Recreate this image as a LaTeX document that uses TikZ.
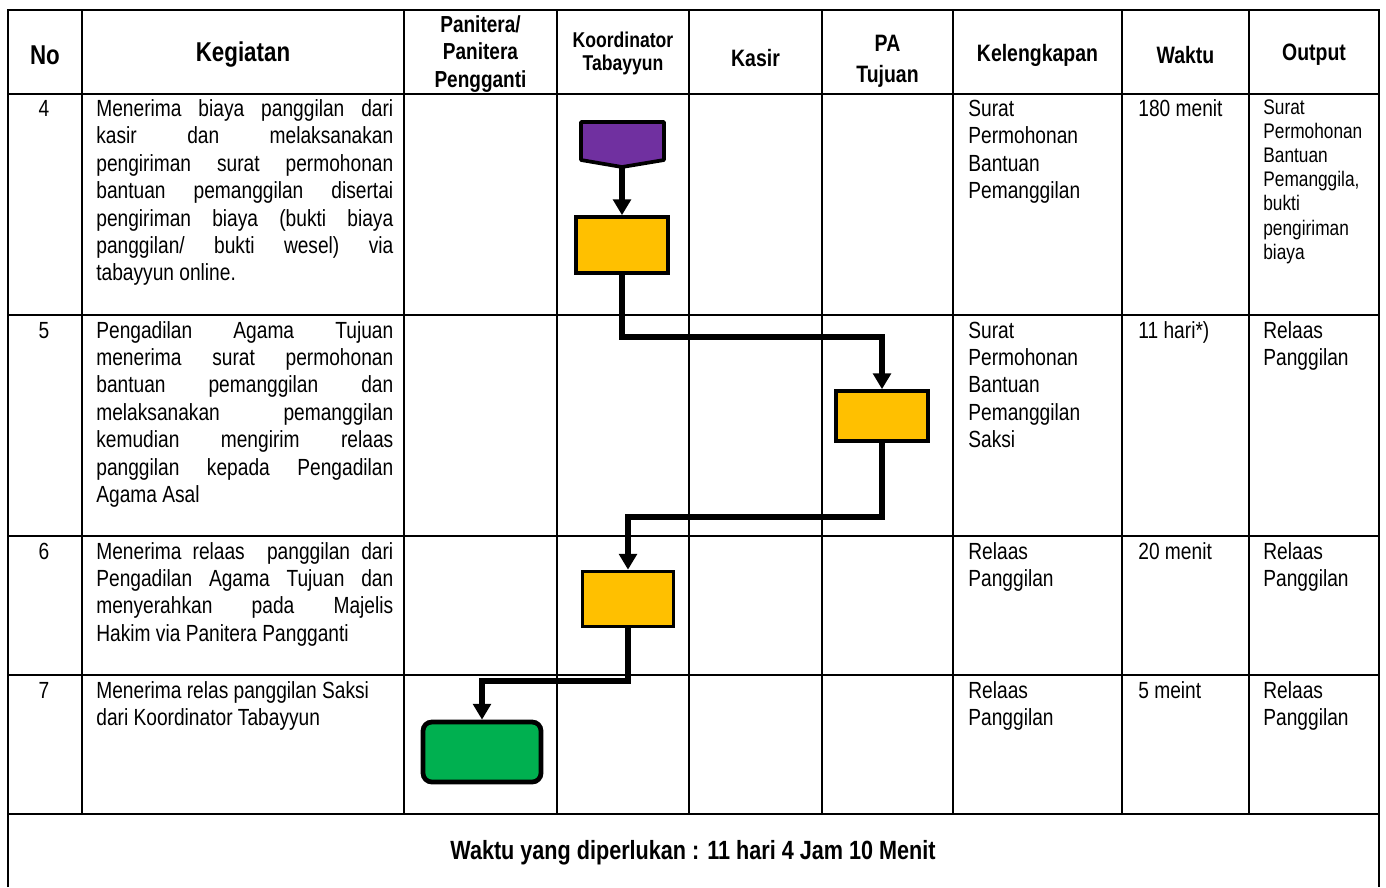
\documentclass[tikz,border=0pt]{standalone}
\usepackage{fontspec}
\setmainfont[FakeStretch=0.82]{Liberation Sans}
\usetikzlibrary{arrows.meta}
\definecolor{purp}{RGB}{112,48,160}
\definecolor{yel}{RGB}{255,192,0}
\definecolor{grn}{RGB}{0,176,80}
\begin{document}
\begin{tikzpicture}[x=0.02cm,y=-0.02cm,
 grid/.style={line width=0.8pt},
 hdr/.style={align=center, inner sep=0},
 body/.style={anchor=north west, inner sep=0, font=\fontsize{13.3}{15.6}\selectfont, align=left},
 kg/.style={body, text width=5.94cm, align=justify},
 small/.style={body, font=\fontsize{12}{13.7}\selectfont},
 num/.style={anchor=north, inner sep=0, font=\fontsize{13.3}{15.6}\selectfont},
 proc/.style={draw, line width=2.1pt, fill=yel, inner sep=0},
 flow/.style={line width=3.2pt, -{Triangle[width=10pt,length=9pt]}},
]
\useasboundingbox (0,0) rectangle (1386,887);
% table
\draw[line width=1pt] (8,887) -- (8,10) -- (1379,10) -- (1379,887);
\foreach \y in {94,315,536,675} \draw[grid] (8,\y) -- (1379,\y);
\draw[line width=1.3pt] (8,814) -- (1379,814);
\foreach \x in {82,404,557,689,822,953,1122,1249} \draw[grid] (\x,10) -- (\x,814);
% header
\node[hdr, font={\bfseries\fontsize{15.5}{17}\selectfont}] (hNo) at (45,55) {No};
\node[hdr, font={\bfseries\fontsize{15.5}{17}\selectfont}] (hKeg) at (243,55) {Kegiatan};
\node[hdr, font={\bfseries\fontsize{13.2}{15.9}\selectfont}] (hPan) at (480.5,54) {Panitera/\\Panitera\\Pengganti};
\node[hdr, font={\bfseries\fontsize{12.2}{13.6}\selectfont}] (hKoo) at (623,53.5) {Koordinator\\Tabayyun};
\node[hdr, font={\bfseries\fontsize{13.5}{16}\selectfont}] (hKas) at (755.5,58) {Kasir};
\node[hdr, font={\bfseries\fontsize{13.5}{17.6}\selectfont}] (hPA) at (887.5,61) {PA\\Tujuan};
\node[hdr, font={\bfseries\fontsize{13.5}{16}\selectfont}] (hKel) at (1037.5,55) {Kelengkapan};
\node[hdr, font={\bfseries\fontsize{13.5}{16}\selectfont}] (hWak) at (1185.5,55) {Waktu};
\node[hdr, font={\bfseries\fontsize{13.5}{16}\selectfont}] (hOut) at (1314,55) {Output};
% row 4
\node[num] (n4) at (44,97) {\strut 4};
\node[kg] (k4) at (96,97) {\strut Menerima biaya panggilan dari\linebreak kasir dan melaksanakan\linebreak pengiriman surat permohonan\linebreak bantuan pemanggilan disertai\linebreak pengiriman biaya (bukti biaya\linebreak panggilan/ bukti wesel) via\linebreak tabayyun online.};
\node[body] (l4) at (968,97) {\strut Surat\\Permohonan\\Bantuan\\Pemanggilan};
\node[body] (w4) at (1138,97) {\strut 180 menit};
\node[small] (o4) at (1263,97.5) {\strut Surat\\Permohonan\\Bantuan\\Pemanggila,\\bukti\\pengiriman\\biaya};
% row 5
\node[num] (n5) at (44,318.5) {\strut 5};
\node[kg] (k5) at (96,318.5) {\strut Pengadilan Agama Tujuan\linebreak menerima surat permohonan\linebreak bantuan pemanggilan dan\linebreak melaksanakan pemanggilan\linebreak kemudian mengirim relaas\linebreak panggilan kepada Pengadilan\linebreak Agama Asal};
\node[body] (l5) at (968,318.5) {\strut Surat\\Permohonan\\Bantuan\\Pemanggilan\\Saksi};
\node[body] (w5) at (1138,318.5) {\strut 11 hari*)};
\node[body] (o5) at (1263,318.5) {\strut Relaas\\Panggilan};
% row 6
\node[num] (n6) at (44,539.5) {\strut 6};
\node[kg] (k6) at (96,539.5) {\strut Menerima relaas\ \ panggilan dari\linebreak Pengadilan Agama Tujuan dan\linebreak menyerahkan pada Majelis\linebreak Hakim via Panitera Pangganti};
\node[body] (l6) at (968,539.5) {\strut Relaas\\Panggilan};
\node[body] (w6) at (1138,539.5) {\strut 20 menit};
\node[body] (o6) at (1263,539.5) {\strut Relaas\\Panggilan};
% row 7
\node[num] (n7) at (44,678.5) {\strut 7};
\node[body] (k7) at (96,678.5) {\strut Menerima relas panggilan Saksi\\dari Koordinator Tabayyun};
\node[body] (l7) at (968,678.5) {\strut Relaas\\Panggilan};
\node[body] (w7) at (1138,678.5) {\strut 5 meint};
\node[body] (o7) at (1263,678.5) {\strut Relaas\\Panggilan};
% footer
\node[hdr, font={\bfseries\fontsize{15}{17}\selectfont}] (foot) at (693,853) {Waktu yang diperlukan : 11 hari 4 Jam 10 Menit};
% flow shapes
\draw[line width=2.1pt, fill=purp, line join=round] (581,122) -- (664,122) -- (664,160) -- (622,167) -- (581,160) -- cycle;
\coordinate (ptip) at (622,167);
\node[proc, minimum width=1.84cm, minimum height=1.12cm] (b1) at (622,245) {};
\node[proc, minimum width=1.84cm, minimum height=1.0cm] (b2) at (882,416) {};
\node[proc, minimum width=1.82cm, minimum height=1.1cm] (b3) at (628,599) {};
\node[draw, line width=2.7pt, fill=grn, rounded corners=5pt, minimum width=2.36cm, minimum height=1.2cm, inner sep=0] (g) at (482,752) {};
% connectors
\draw[flow] (ptip) -- (b1.north);
\draw[flow] (b1.south) -- (b1.south |- 0,337) -- (b2.north |- 0,337) -- (b2.north);
\draw[flow] (b2.south) -- (b2.south |- 0,517) -- (b3.north |- 0,517) -- (b3.north);
\draw[flow] (b3.south) -- (b3.south |- 0,681) -- (g.north |- 0,681) -- (g.north);
\end{tikzpicture}
\end{document}
